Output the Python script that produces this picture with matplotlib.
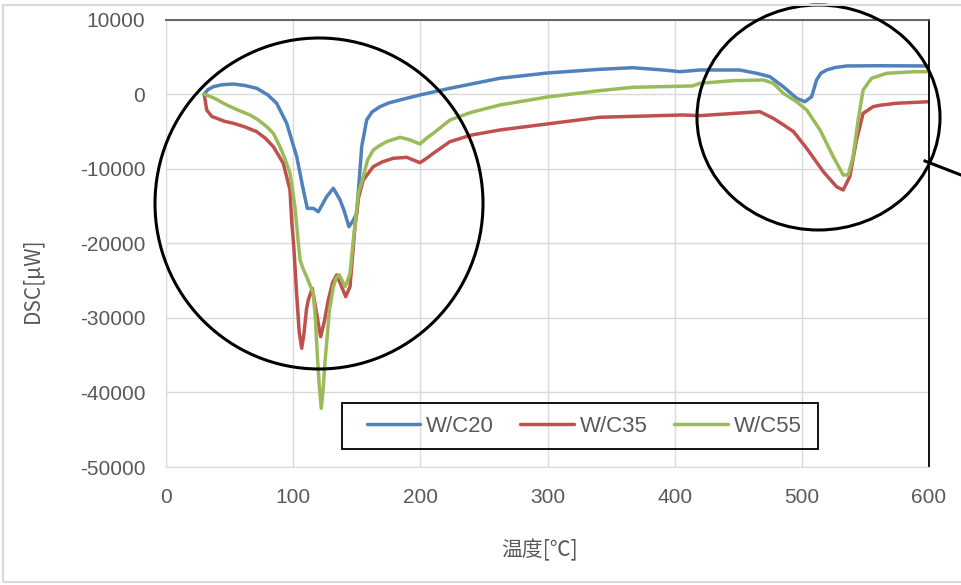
import matplotlib
matplotlib.use("Agg")
import matplotlib.pyplot as plt
from matplotlib.patches import Ellipse, Rectangle
from matplotlib.lines import Line2D

plt.rcParams["axes.unicode_minus"] = False

# temperature [C] / DSC [uW]
t_20 = [30, 33, 37.2, 44, 52.9, 62, 71.3, 80, 87, 94.9, 102.8, 108, 111.1, 115.8, 119.8, 126.3, 131.6, 136.9,
        140, 143.9, 147, 150, 153.9, 157.8, 162, 168.3, 175, 184, 199.7, 223.3, 262.6, 300, 341, 367, 393.7,
        404, 420, 451, 464.4, 474.9, 485.4, 495.9, 502.4, 507.7, 511.6, 515, 519.5, 526, 535.2, 560, 600]
dsc_20 = [0, 600, 990, 1250, 1350, 1150, 780, -100, -1230, -3910, -8390, -12860, -15320, -15320, -15770,
          -13760, -12630, -14200, -15600, -17780, -17000, -15980, -7050, -3470, -2400, -1690, -1200, -790, -120,
          780, 2120, 2830, 3320, 3540, 3190, 3000, 3230, 3230, 2790, 2330, 990, -560, -1020, -350, 1890, 2800,
          3230, 3550, 3770, 3800, 3770]

t_35 = [30, 32, 36, 39.9, 46, 52.9, 62, 71.3, 78, 84.4, 92.2, 97.5, 98.8, 100.5, 102.8, 104.8, 106.7, 108.6,
        110.5, 111.9, 115, 118, 121.6, 124.5, 127.6, 131, 134.2, 138.1, 141.3, 144.7, 148.6, 151.5, 155.1, 163,
        170, 178.7, 189.3, 199.7, 205, 210.2, 223.3, 240, 262.6, 300, 341, 406.8, 420, 467, 477.5, 485.7, 493.5,
        503.8, 516.9, 527.3, 532.5, 537.7, 543, 548.2, 556, 561.3, 574.5, 600]
dsc_35 = [0, -2130, -3000, -3250, -3650, -3910, -4400, -5040, -5900, -7050, -9280, -12860, -16880, -20500,
          -27000, -32000, -34080, -32000, -28800, -27610, -26040, -29000, -32530, -30500, -27610, -25300, -24250,
          -25820, -27160, -25820, -17780, -13800, -11520, -9730, -9100, -8610, -8480, -9200, -8600, -7940, -6380,
          -5500, -4810, -4000, -3110, -2800, -2890, -2360, -3250, -4140, -5040, -7270, -10400, -12420, -12860,
          -11070, -6150, -2580, -1690, -1500, -1230, -1020]

t_55 = [30, 38, 47.7, 56, 66, 72, 79.2, 84.4, 89.6, 93.6, 97.5, 101.4, 103.5, 105.4, 108, 110.6, 113.2, 115.8,
        117.4, 119, 120.5, 122.1, 123.6, 125, 126.3, 128.5, 131.6, 134, 136.3, 138.5, 140.8, 142.8, 144.7, 147.3,
        151.3, 155.1, 158.5, 163, 168, 173.5, 184, 191.9, 199.7, 205, 210.2, 223.3, 240, 262.6, 300, 341, 367,
        414, 420, 446, 469.7, 477.5, 485.4, 495.9, 503.8, 514.3, 524.7, 532.5, 536.4, 540.3, 544.3, 548.2,
        554.8, 566.8, 587.6, 600]
dsc_55 = [0, -550, -1460, -2100, -2800, -3400, -4370, -5260, -7050, -8700, -10620, -15100, -19000, -22240,
          -23500, -24480, -25600, -26710, -30000, -35000, -39000, -42130, -39500, -36000, -33410, -29000, -25820,
          -24600, -24250, -25000, -25820, -25000, -24030, -19560, -13300, -11070, -8840, -7500, -6900, -6380,
          -5790, -6150, -6690, -5900, -5260, -3470, -2450, -1460, -390, 460, 910, 1090, 1450, 1800, 1890, 1450,
          110, -1020, -2130, -4810, -8390, -10850, -10850, -8390, -3470, 550, 2120, 2790, 2990, 3000]

labels = ["W/C20", "W/C35", "W/C55"]
colors = ["#4F81BD", "#C0504D", "#9BBB59"]

W, H = 961, 585
fig = plt.figure(figsize=(W / 100, H / 100), dpi=100)
ax = fig.add_axes([166 / W, 1 - 467 / H, (929 - 166) / W, (467 - 19.5) / H])

for t, d, lab, c in zip([t_20, t_35, t_55], [dsc_20, dsc_35, dsc_55], labels, colors):
    ax.plot(t, d, color=c, lw=2.5, label=lab, solid_joinstyle="round", solid_capstyle="round")

ax.set_xlim(0, 600)
ax.set_ylim(-50000, 10000)
ax.set_xticks(range(0, 601, 100))
ax.set_yticks(range(-50000, 10001, 10000))
ax.grid(True, color="#D9D9D9", lw=1)
ax.set_axisbelow(True)
ax.tick_params(length=0, labelsize=15, colors="#595959", pad=15)
for lbl in ax.get_xticklabels() + ax.get_yticklabels():
    lbl.set_family("Liberation Sans")
ax.spines["left"].set_color("#D9D9D9")
ax.spines["bottom"].set_color("#D9D9D9")
ax.spines["top"].set_color("#595959")
ax.spines["right"].set_color("black")
ax.spines["top"].set_linewidth(1.3)
ax.spines["right"].set_linewidth(1.3)

leg = ax.legend(loc="center", bbox_to_anchor=(584 / W, 1 - 426 / H), bbox_transform=fig.transFigure,
                ncol=3, frameon=False, handlelength=2.4, handletextpad=0.27,
                columnspacing=1.2, borderpad=0.3, prop={"family": "Liberation Sans", "size": 16})
for txt in leg.get_texts():
    txt.set_color("#595959")
fig.add_artist(Rectangle((342 / W, 1 - 449 / H), 476 / W, 46 / H, transform=fig.transFigure,
                         fill=False, ec="black", lw=1.3, zorder=5))

cjk = ["Noto Sans CJK JP", "DejaVu Sans"]
fig.text(32 / W, 1 - 280 / H, "DSC[μW]", rotation=90, ha="center", va="center",
         fontsize=15, color="#595959", family=cjk)
fig.text(540 / W, 1 - 550 / H, "温度[℃]", ha="center", va="center",
         fontsize=15, color="#595959", family=cjk)

# annotation circles
fig.add_artist(Ellipse((319 / W, 1 - 203.5 / H), 328 / W, 331 / H, transform=fig.transFigure,
                       fill=False, ec="black", lw=2.2))
fig.add_artist(Ellipse((818.5 / W, 1 - 117.5 / H), 243 / W, 225 / H, transform=fig.transFigure,
                       fill=False, ec="black", lw=2.2))
fig.add_artist(Line2D([925 / W, 961 / W], [1 - 161 / H, 1 - 175 / H], transform=fig.transFigure,
                      color="black", lw=2.2))

# chart area border
fig.add_artist(Rectangle((3 / W, 1 - 582 / H), 970 / W, 577 / H, transform=fig.transFigure,
                         fill=False, ec="#D9D9D9", lw=1.5))

fig.savefig("out.png", dpi=100)
